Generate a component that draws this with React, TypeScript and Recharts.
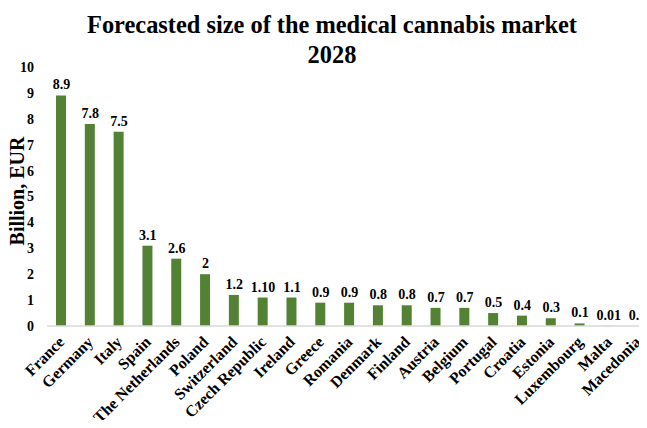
import { ComposedChart, Bar, Line, XAxis, YAxis, LabelList } from "recharts"

const countries = [
  "France", "Germany", "Italy", "Spain", "The Netherlands", "Poland", "Switzerland",
  "Czech Republic", "Ireland", "Greece", "Romania", "Denmark", "Finland", "Austria",
  "Belgium", "Portugal", "Croatia", "Estonia", "Luxembourg", "Malta", "Macedonia",
]
const marketSize = [8.9, 7.8, 7.5, 3.1, 2.6, 2, 1.2, 1.1, 1.1, 0.9, 0.9, 0.8, 0.8, 0.7, 0.7, 0.5, 0.4, 0.3, 0.1, 0.01, 0.0]
const valueLabels = ["8.9", "7.8", "7.5", "3.1", "2.6", "2", "1.2", "1.10", "1.1", "0.9", "0.9", "0.8", "0.8", "0.7", "0.7", "0.5", "0.4", "0.3", "0.1", "0.01", "0.0"]
const yTicks = [0, 1, 2, 3, 4, 5, 6, 7, 8, 9, 10]

const data = countries.map((country, i) => ({ country, size: marketSize[i], label: valueLabels[i] }))

const font = "'Liberation Serif', 'Times New Roman', serif"

function CountryTick({ x, y, payload }: any) {
  return (
    <text
      x={x + 4}
      y={y + 9}
      transform={`rotate(-45, ${x + 4}, ${y + 9})`}
      textAnchor="end"
      fontFamily={font}
      fontWeight="bold"
      fontSize={16}
      fill="#000"
    >
      {payload.value}
    </text>
  )
}

function YTitle() {
  return (
    <text
      x={17}
      y={191}
      transform="rotate(-90, 17, 191)"
      textAnchor="middle"
      dominantBaseline="central"
      fontFamily={font}
      fontWeight="bold"
      fontSize={20}
      fill="#000"
    >
      Billion, EUR
    </text>
  )
}

export default function App() {
  return (
    <div style={{ position: "relative", width: 647, height: 428, margin: -8, overflow: "hidden", background: "#fff", fontFamily: font }}>
      <div style={{ position: "absolute", left: 0, top: 10, width: 664, textAlign: "center", fontWeight: "bold", fontSize: 24.4, lineHeight: "30px", color: "#000" }}>
        Forecasted size of the medical cannabis market
        <br />
        2028
      </div>
      <ComposedChart width={652} height={428} data={data} margin={{ top: 67, right: 0, bottom: 2, left: 0 }}>
        <XAxis
          dataKey="country"
          interval={0}
          tickLine={false}
          axisLine={{ stroke: "#d9d9d9", strokeWidth: 1.5 }}
          height={100}
          tick={<CountryTick />}
        />
        <YAxis
          domain={[0, 10]}
          ticks={yTicks}
          interval={0}
          width={47}
          axisLine={false}
          tickLine={false}
          tickMargin={7}
          tick={{ fontFamily: font, fontWeight: "bold", fontSize: 14, fill: "#000" }}
          label={<YTitle />}
        />
        <Bar dataKey="size" fill="#548235" barSize={10} isAnimationActive={false} />
        <Line dataKey="size" stroke="none" dot={false} activeDot={false} isAnimationActive={false}>
          <LabelList
            dataKey="label"
            position="top"
            offset={6}
            style={{ fontFamily: font, fontWeight: "bold", fontSize: 14, fill: "#000" }}
          />
        </Line>
      </ComposedChart>
    </div>
  )
}
